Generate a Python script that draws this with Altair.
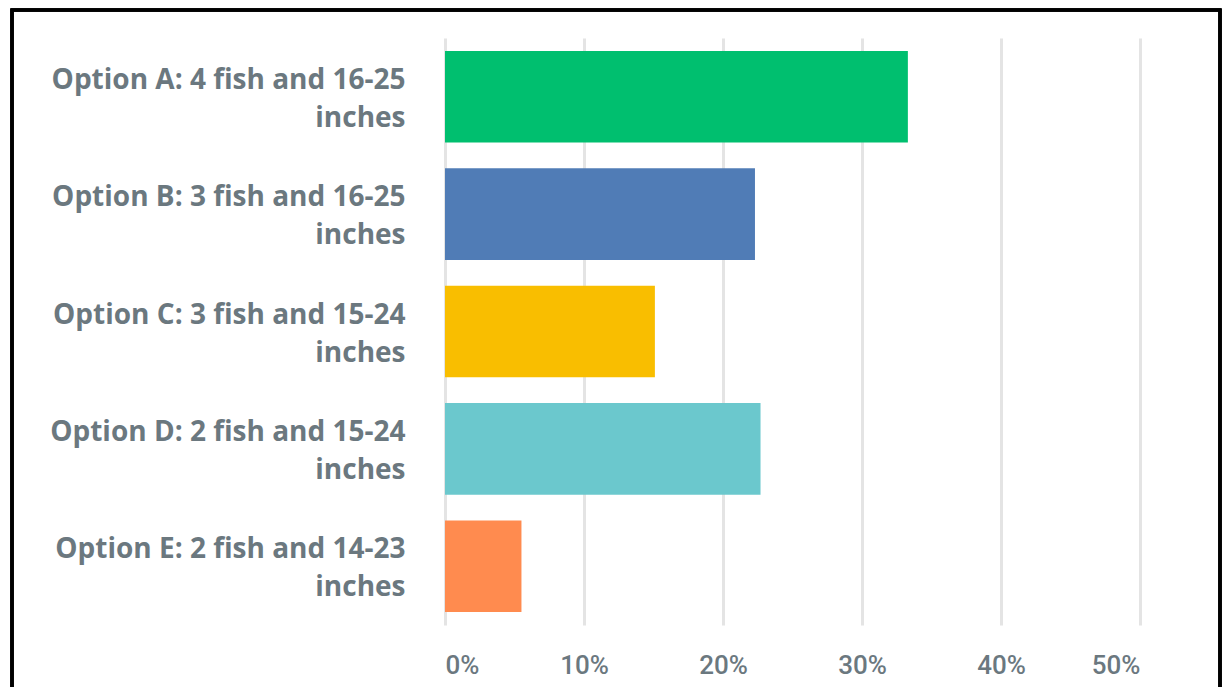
import altair as alt
import pandas as pd

categories = [
    "Option A: 4 fish and 16-25 inches",
    "Option B: 3 fish and 16-25 inches",
    "Option C: 3 fish and 15-24 inches",
    "Option D: 2 fish and 15-24 inches",
    "Option E: 2 fish and 14-23 inches",
]
shares = [0.333, 0.223, 0.151, 0.227, 0.055]
colors = ["#00bf6f", "#507cb6", "#f9be00", "#6bc8cd", "#ff8b4f"]
x_ticks = [0, 0.1, 0.2, 0.3, 0.4, 0.5]

df = pd.DataFrame({"option": categories, "share": shares})

TEXT = "#6b787f"

bars = alt.Chart(df).mark_bar().encode(
    y=alt.Y(
        "option:N",
        sort=categories,
        scale=alt.Scale(paddingInner=0.22, paddingOuter=0.11),
        axis=alt.Axis(
            title=None, domain=False, ticks=False, labelPadding=40,
            labelFontSize=28, labelFont="Open Sans", labelFontWeight="bold",
            labelColor=TEXT, labelLineHeight=38, labelLimit=500,
            labelOffset=-16,
            labelExpr="[replace(datum.label, ' inches', ''), 'inches']",
            grid=False,
        ),
    ),
    x=alt.X(
        "share:Q",
        scale=alt.Scale(domain=[0, 0.5], nice=False),
        axis=alt.Axis(
            title=None, domain=False, ticks=False, values=x_ticks, format=".0%",
            labelFontSize=26, labelFont="Roboto", labelFontWeight=500,
            labelColor=TEXT, labelPadding=27, grid=True, gridColor="#e4e4e4",
            gridWidth=3,
        ),
    ),
    color=alt.Color("option:N", sort=categories,
                    scale=alt.Scale(domain=categories, range=colors), legend=None),
)

frame = alt.Chart(df).mark_rect(fill=None, stroke="black", strokeWidth=3).encode(
    x=alt.value(-433), x2=alt.value(775), y=alt.value(-28), y2=alt.value(700)
)

chart = alt.layer(bars, frame).properties(
    width=695, height=587,
    padding={"left": 437, "top": 30, "right": 82, "bottom": 62},
    autosize=alt.AutoSizeParams(type="none"),
    background="white",
).configure_view(stroke=None)

chart.save("out.html", embed_options={"renderer": "svg", "actions": False})
